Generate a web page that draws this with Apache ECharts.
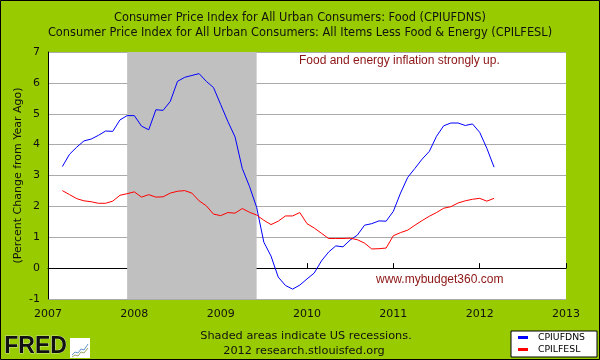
<!DOCTYPE html>
<html>
<head>
<meta charset="utf-8">
<script src="https://cdn.jsdelivr.net/npm/echarts@6/dist/echarts.min.js"></script>
<style>html,body{margin:0;padding:0;background:#99cc00}#c{width:600px;height:360px}</style>
</head>
<body>
<div id="c"></div>
<script>
const months = [
 '2007-03','2007-04','2007-05','2007-06','2007-07','2007-08','2007-09','2007-10','2007-11','2007-12',
 '2008-01','2008-02','2008-03','2008-04','2008-05','2008-06','2008-07','2008-08','2008-09','2008-10','2008-11','2008-12',
 '2009-01','2009-02','2009-03','2009-04','2009-05','2009-06','2009-07','2009-08','2009-09','2009-10','2009-11','2009-12',
 '2010-01','2010-02','2010-03','2010-04','2010-05','2010-06','2010-07','2010-08','2010-09','2010-10','2010-11','2010-12',
 '2011-01','2011-02','2011-03','2011-04','2011-05','2011-06','2011-07','2011-08','2011-09','2011-10','2011-11','2011-12',
 '2012-01','2012-02','2012-03'
];
const cpiufdns = [
 3.29,3.69,3.92,4.12,4.18,4.30,4.44,4.43,4.80,4.94,
 4.94,4.60,4.48,5.13,5.11,5.40,6.05,6.18,6.24,6.30,6.05,5.85,
 5.30,4.75,4.25,3.23,2.65,1.97,0.84,0.39,-0.29,-0.56,-0.68,-0.55,
 -0.35,-0.16,0.23,0.52,0.72,0.69,0.91,1.07,1.39,1.44,1.53,1.52,
 1.84,2.43,2.94,3.23,3.53,3.78,4.27,4.61,4.70,4.70,4.62,4.67,
 4.40,3.88,3.27
];
const cpilfesl = [
 2.51,2.38,2.25,2.18,2.15,2.10,2.10,2.17,2.36,2.41,
 2.47,2.30,2.38,2.30,2.31,2.43,2.49,2.51,2.43,2.18,2.02,1.75,
 1.70,1.80,1.78,1.93,1.81,1.72,1.55,1.41,1.52,1.69,1.69,1.80,
 1.44,1.30,1.13,0.96,0.96,0.96,0.97,0.92,0.81,0.62,0.63,0.65,
 1.05,1.15,1.23,1.39,1.54,1.68,1.80,1.94,1.99,2.11,2.18,2.23,
 2.26,2.17,2.26
];
const seriesNames = ['CPIUFDNS','CPILFESL'];
const recession = ['2007-12','2009-06'];
const xRange = [2007, 2013];
const yRange = [-1, 7];
const titleLines = [
 'Consumer Price Index for All Urban Consumers: Food (CPIUFDNS)',
 'Consumer Price Index for All Urban Consumers: All Items Less Food & Energy (CPILFESL)'
];
const yName = '(Percent Change from Year Ago)';
const note = 'Food and energy inflation strongly up.';
const site = 'www.mybudget360.com';
const footer = ['Shaded areas indicate US recessions.', '2012 research.stlouisfed.org'];

function toYear(s){ const p = s.split('-'); return (+p[0]) + (+p[1]-1)/12; }
const pairs = vals => months.map((m,i)=>[toYear(m), vals[i]]);

const chart = echarts.init(document.getElementById('c'), null, {renderer:'canvas'});
const F = 'DejaVu Sans';
chart.setOption({
  backgroundColor:'#99cc00',
  animation:false,
  title:{
    text: titleLines.join('\n'), left:'center', top:6,
    textStyle:{fontFamily:F, fontSize:11.4, fontWeight:'normal', color:'#111', lineHeight:15}
  },
  grid:{left:48, right:34, top:52, bottom:61, show:true, backgroundColor:'#fff', borderWidth:0},
  legend:{
    orient:'vertical', left:511, top:331, data:seriesNames,
    icon:'rect', itemWidth:10, itemHeight:3, itemGap:3,
    backgroundColor:'#fff', borderColor:'#000', borderWidth:1, borderRadius:0,
    padding:[2,12,3,7],
    textStyle:{fontFamily:F, fontSize:9.3, color:'#000', padding:[0,0,0,5]}
  },
  xAxis:{
    type:'value', min:xRange[0], max:xRange[1], interval:1,
    axisLine:{show:true, lineStyle:{color:'#000', width:1}},
    axisTick:{show:true, inside:true, length:5, lineStyle:{color:'#000'}},
    axisLabel:{fontFamily:F, fontSize:11, color:'#111', margin:10, formatter:v=>String(v)},
    splitLine:{show:false}
  },
  yAxis:{
    type:'value', min:yRange[0], max:yRange[1], interval:1,
    name:yName, nameLocation:'middle', nameRotate:90, nameGap:24, nameMoveOverlap:false,
    nameTextStyle:{fontFamily:F, fontSize:11, color:'#111'},
    axisLine:{show:true, lineStyle:{color:'#000', width:1}},
    axisTick:{show:false},
    axisLabel:{fontFamily:F, fontSize:11, color:'#111', margin:8},
    splitLine:{show:true, lineStyle:{color:'#aaaaaa', width:1}}
  },
  series:[
    {type:'line', name:'recession', data:[], silent:true,
     markArea:{silent:true, itemStyle:{color:'#c0c0c0'},
       data:[[{xAxis:toYear(recession[0])},{xAxis:toYear(recession[1])}]]}},
    {type:'line', name:seriesNames[0], data:pairs(cpiufdns), showSymbol:false, symbol:'none',
     lineStyle:{color:'#0000ff', width:1}, itemStyle:{color:'#0000ff'}},
    {type:'line', name:seriesNames[1], data:pairs(cpilfesl), showSymbol:false, symbol:'none',
     lineStyle:{color:'#ff0000', width:1}, itemStyle:{color:'#ff0000'}}
  ],
  graphic:[
    {type:'text', left:299, top:55, z:10, style:{text:note, fontFamily:'Liberation Sans', fontSize:12, fill:'#8c1414'}},
    {type:'text', left:376, top:274, z:10, style:{text:site, fontFamily:'Liberation Sans', fontSize:12, fill:'#8c1414'}},
    {type:'text', x:306, y:336, z:10, style:{text:footer[0], fontFamily:F, fontSize:11.3, fill:'#111', align:'center', verticalAlign:'middle'}},
    {type:'text', x:304, y:351, z:10, style:{text:footer[1], fontFamily:F, fontSize:11.3, fill:'#111', align:'center', verticalAlign:'middle'}},
    {type:'text', left:4, top:335, z:10, style:{text:'FRED', fontFamily:'Liberation Sans', fontSize:23, fontWeight:'bold', fill:'#111', stroke:'#ffffff', lineWidth:0.6}},
    {type:'rect', shape:{x:70,y:338,width:20,height:20}, z:10, style:{fill:'#fff', stroke:'none'}},
    {type:'polyline', shape:{points:[[72,355],[75,352],[78,353],[81,349],[84,350],[88,344]]}, z:11, style:{stroke:'#6699cc', fill:'none', lineWidth:1}},
    {type:'polyline', shape:{points:[[72,357],[75,355],[78,356],[81,352],[84,353],[88,348]]}, z:11, style:{stroke:'#99aa66', fill:'none', lineWidth:1}},
    {type:'rect', shape:{x:0.5,y:0.5,width:599,height:359}, z:20, style:{fill:'none', stroke:'#000', lineWidth:1}}
  ]
});
</script>
</body>
</html>
